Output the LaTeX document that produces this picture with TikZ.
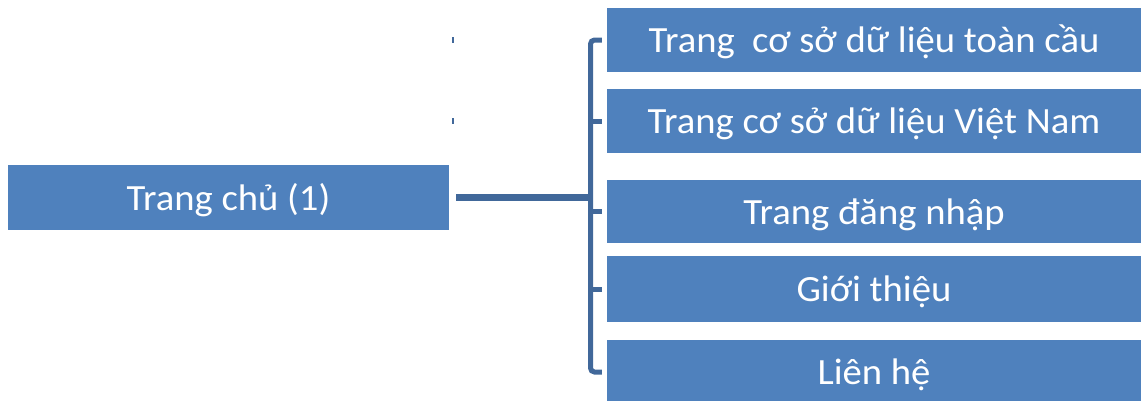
\documentclass[tikz,border=0pt]{standalone}
\usepackage{fontspec}
\setmainfont{Carlito}[FakeStretch=1.045]
\definecolor{boxblue}{HTML}{4F81BD}
\definecolor{linkblue}{HTML}{41689A}
\tikzset{
  box/.style={fill=boxblue, draw=none, minimum width=534pt, minimum height=64pt, inner sep=0pt, text height=25pt, text depth=0pt, text=white, font=\fontsize{37}{40}\selectfont, anchor=center},
  conn/.style={draw=linkblue, line width=5pt},
  speck/.style={draw=linkblue, line width=1.5pt}
}
\begin{document}
\begin{tikzpicture}[x=1pt,y=-1pt]
\useasboundingbox (0,0) rectangle (1141,400);
\clip (0,0) rectangle (1141,400);
\node[box, minimum width=441pt, minimum height=65pt] (main) at (228.5,197.5) {Trang chủ (1)};
\node[box] (r1) at (874,40) {Trang\ \ cơ sở dữ liệu toàn cầu};
\node[box] (r2) at (874,121) {Trang cơ sở dữ liệu Việt Nam};
\node[box, minimum height=63pt] (r3) at (874,211.5) {Trang đăng nhập};
\node[box, minimum height=66pt] (r4) at (874,289) {Giới thiệu};
\node[box] (r5) at (874,372) {Liên hệ};
\coordinate (spine) at (590.5,0);
\coordinate (s1) at (453,37);
\coordinate (s2) at (453,118);
\draw[conn, rounded corners=4pt] ([xshift=-5pt]r1.west) -- (r1.west -| spine) -- (r5.west -| spine) -- ([xshift=-5pt]r5.west);
\draw[conn] (r2.west -| spine) -- ([xshift=-5pt]r2.west);
\draw[conn] (r3.west -| spine) -- ([xshift=-5pt]r3.west);
\draw[conn] (r4.west -| spine) -- ([xshift=-5pt]r4.west);
\draw[conn, line width=6.5pt] ([xshift=7pt]main.east) -- (main.east -| spine);
\draw[speck] (s1) -- ++(0,6);
\draw[speck] (s2) -- ++(0,6);
\end{tikzpicture}
\end{document}
